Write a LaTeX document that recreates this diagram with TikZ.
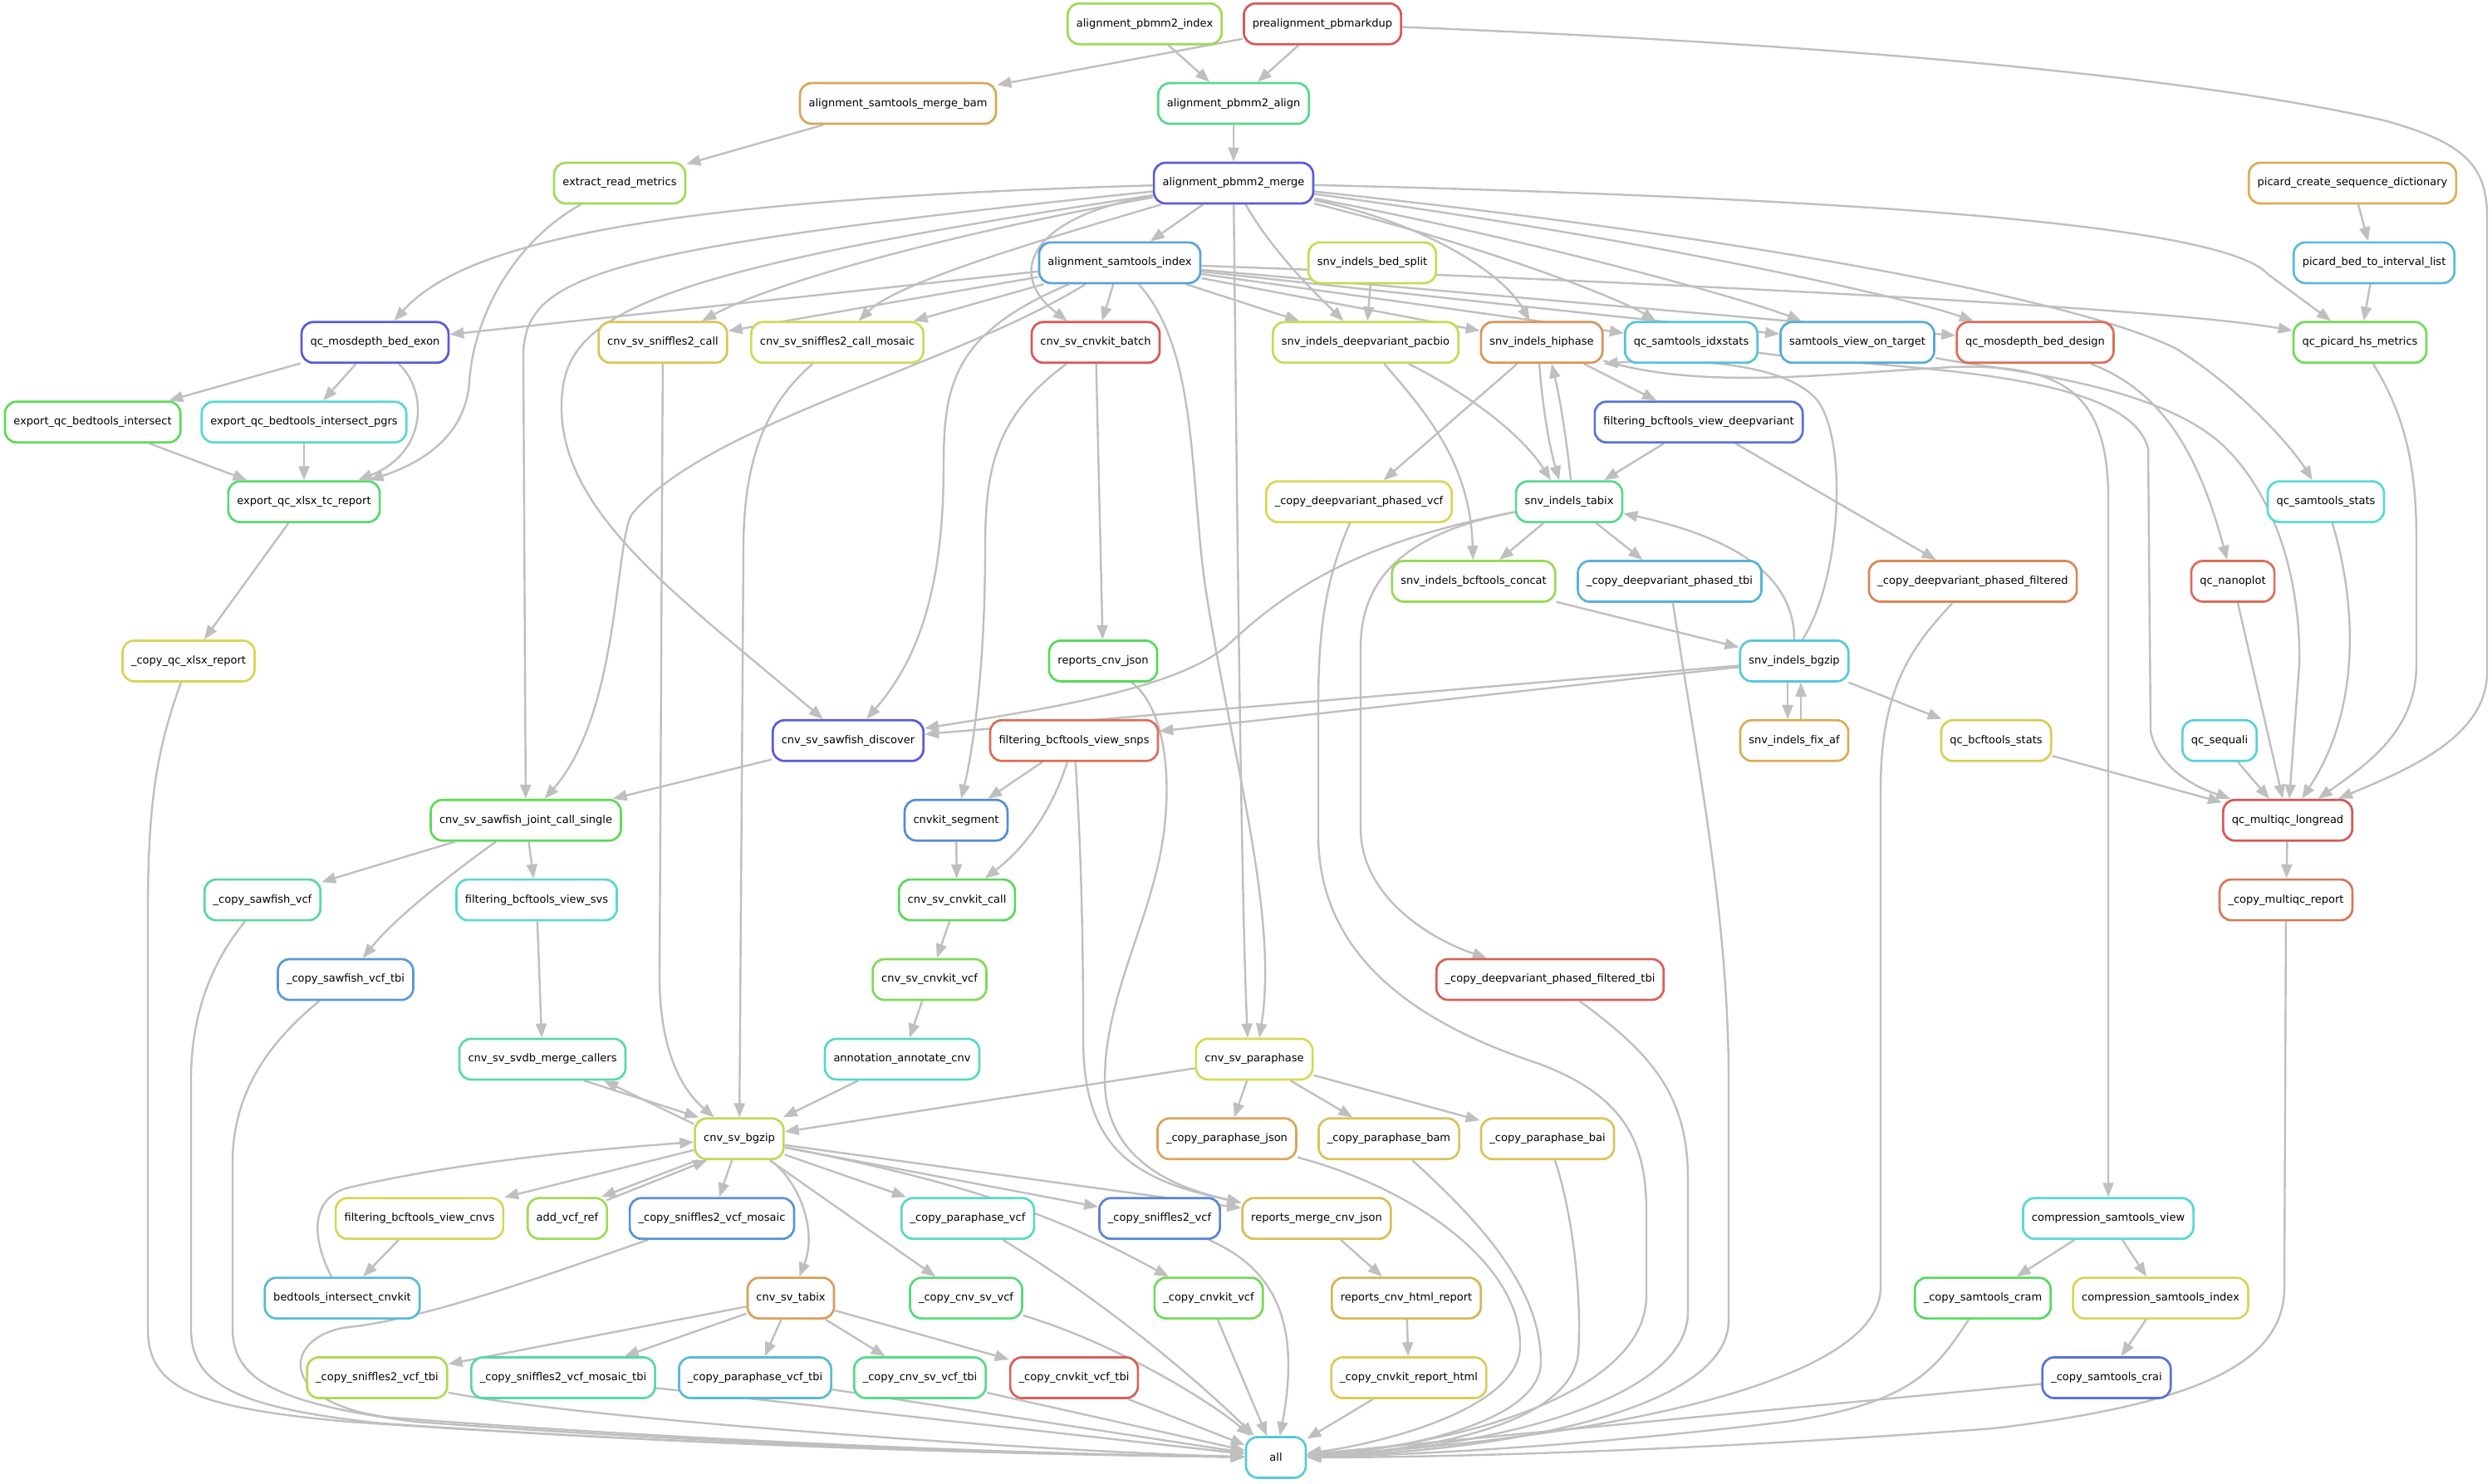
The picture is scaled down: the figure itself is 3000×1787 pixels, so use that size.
\documentclass[tikz,border=0pt]{standalone}
\usepackage{fontspec}
\setmainfont{DejaVu Sans}
\usetikzlibrary{arrows.meta}
\pgfdeclarelayer{bg}
\pgfsetlayers{bg,main}
\tikzset{
 rb/.style={rectangle, rounded corners=14pt, line width=2.7pt, fill=white, minimum height=49pt, minimum width=72pt, inner xsep=10.5pt, inner ysep=0pt, font=\fontsize{13}{15}\selectfont},
 arr/.style={draw=black!25, line width=2.4pt, -{Triangle[length=17pt,width=13pt]}},
}
\newcommand\mknode[5]{\definecolor{t#1}{hsb}{#2,0.6,0.85}\colorlet{c#1}[rgb]{t#1}\node[rb,draw=c#1] (#1) at (#3,#4) {#5};}
\begin{document}
\begin{tikzpicture}[x=1pt,y=-1pt]
\useasboundingbox (0,0) rectangle (3000,1787);
% row 0
\mknode{pbidx}{0.24}{1378}{28.7}{alignment\_pbmm2\_index}
\mknode{markdup}{0.0}{1592}{28.7}{prealignment\_pbmarkdup}
% row 1
\mknode{mergebam}{0.10}{1081}{124.6}{alignment\_samtools\_merge\_bam}
\mknode{align}{0.40}{1485}{124.6}{alignment\_pbmm2\_align}
% row 2
\mknode{readmet}{0.24}{746}{220.5}{extract\_read\_metrics}
\mknode{merge}{0.66}{1485}{220.5}{alignment\_pbmm2\_merge}
\mknode{seqdict}{0.11}{2832}{220.5}{picard\_create\_sequence\_dictionary}
% row 3
\mknode{samidx}{0.57}{1348}{316.4}{alignment\_samtools\_index}
\mknode{bedsplit}{0.19}{1652}{316.4}{snv\_indels\_bed\_split}
\mknode{bedint}{0.54}{2858}{316.4}{picard\_bed\_to\_interval\_list}
% row 4
\mknode{mosexon}{0.66}{451.5}{412.3}{qc\_mosdepth\_bed\_exon}
\mknode{snif}{0.14}{798}{412.3}{cnv\_sv\_sniffles2\_call}
\mknode{snifmos}{0.18}{1008}{412.3}{cnv\_sv\_sniffles2\_call\_mosaic}
\mknode{cnvkitbatch}{0.0}{1319}{412.3}{cnv\_sv\_cnvkit\_batch}
\mknode{dv}{0.19}{1644}{412.3}{snv\_indels\_deepvariant\_pacbio}
\mknode{hiphase}{0.08}{1856}{412.3}{snv\_indels\_hiphase}
\mknode{idxstats}{0.53}{2036}{412.3}{qc\_samtools\_idxstats}
\mknode{ontarget}{0.56}{2236}{412.3}{samtools\_view\_on\_target}
\mknode{mosdesign}{0.03}{2450}{412.3}{qc\_mosdepth\_bed\_design}
\mknode{hsmet}{0.30}{2841}{412.3}{qc\_picard\_hs\_metrics}
% row 5
\mknode{expint}{0.32}{111.6}{508.2}{export\_qc\_bedtools\_intersect}
\mknode{exppgrs}{0.49}{366}{508.2}{export\_qc\_bedtools\_intersect\_pgrs}
\mknode{filtdv}{0.63}{2045}{508.2}{filtering\_bcftools\_view\_deepvariant}
% row 6
\mknode{xlsx}{0.36}{366}{604.1}{export\_qc\_xlsx\_tc\_report}
\mknode{cpdvvcf}{0.16}{1636}{604.1}{\_copy\_deepvariant\_phased\_vcf}
\mknode{tabix}{0.40}{1889}{604.1}{snv\_indels\_tabix}
\mknode{samstats}{0.50}{2800}{604.1}{qc\_samtools\_stats}
% row 7
\mknode{concat}{0.25}{1774}{700}{snv\_indels\_bcftools\_concat}
\mknode{cpdvtbi}{0.55}{2010}{700}{\_copy\_deepvariant\_phased\_tbi}
\mknode{cpdvfilt}{0.06}{2375}{700}{\_copy\_deepvariant\_phased\_filtered}
\mknode{nanoplot}{0.03}{2688}{700}{qc\_nanoplot}
% row 8
\mknode{cpxlsx}{0.16}{227}{795.9}{\_copy\_qc\_xlsx\_report}
\mknode{cnvjson}{0.34}{1328}{795.9}{reports\_cnv\_json}
\mknode{bgzip}{0.52}{2160}{795.9}{snv\_indels\_bgzip}
% row 9
\mknode{sawdisc}{0.66}{1021}{891.8}{cnv\_sv\_sawfish\_discover}
\mknode{filtsnps}{0.03}{1293}{891.8}{filtering\_bcftools\_view\_snps}
\mknode{fixaf}{0.11}{2160}{891.8}{snv\_indels\_fix\_af}
\mknode{bcfstats}{0.15}{2403}{891.8}{qc\_bcftools\_stats}
\mknode{sequali}{0.51}{2672}{891.8}{qc\_sequali}
% row 10
\mknode{sawjoint}{0.32}{633}{987.7}{cnv\_sv\_sawfish\_joint\_call\_single}
\mknode{segment}{0.60}{1151}{987.7}{cnvkit\_segment}
\mknode{multiqc}{0.0}{2754}{987.7}{qc\_multiqc\_longread}
% row 11
\mknode{cpsawvcf}{0.42}{316}{1083.6}{\_copy\_sawfish\_vcf}
\mknode{filtsvs}{0.48}{646}{1083.6}{filtering\_bcftools\_view\_svs}
\mknode{cnvkitcall}{0.33}{1152}{1083.6}{cnv\_sv\_cnvkit\_call}
\mknode{cpmultiqc}{0.04}{2752}{1083.6}{\_copy\_multiqc\_report}
% row 12
\mknode{cpsawtbi}{0.58}{416}{1179.5}{\_copy\_sawfish\_vcf\_tbi}
\mknode{cnvkitvcf}{0.28}{1119}{1179.5}{cnv\_sv\_cnvkit\_vcf}
\mknode{cpdvfilttbi}{0.01}{1866}{1179.5}{\_copy\_deepvariant\_phased\_filtered\_tbi}
% row 13
\mknode{svdb}{0.44}{653}{1275.4}{cnv\_sv\_svdb\_merge\_callers}
\mknode{annot}{0.47}{1086}{1275.4}{annotation\_annotate\_cnv}
\mknode{paraphase}{0.17}{1510}{1275.4}{cnv\_sv\_paraphase}
% row 14
\mknode{svbgzip}{0.20}{890}{1371.3}{cnv\_sv\_bgzip}
\mknode{cpppjson}{0.10}{1477}{1371.3}{\_copy\_paraphase\_json}
\mknode{cpppbam}{0.14}{1672}{1371.3}{\_copy\_paraphase\_bam}
\mknode{cpppbai}{0.14}{1863}{1371.3}{\_copy\_paraphase\_bai}
% row 15
\mknode{filtcnvs}{0.16}{505}{1467.2}{filtering\_bcftools\_view\_cnvs}
\mknode{addref}{0.24}{683}{1467.2}{add\_vcf\_ref}
\mknode{cpsnifmos}{0.59}{857}{1467.2}{\_copy\_sniffles2\_vcf\_mosaic}
\mknode{cpppvcf}{0.47}{1165}{1467.2}{\_copy\_paraphase\_vcf}
\mknode{cpsnif}{0.61}{1396}{1467.2}{\_copy\_sniffles2\_vcf}
\mknode{mergejson}{0.13}{1585}{1467.2}{reports\_merge\_cnv\_json}
\mknode{cramview}{0.49}{2538}{1467.2}{compression\_samtools\_view}
% row 16
\mknode{bedcnvkit}{0.54}{412}{1563.1}{bedtools\_intersect\_cnvkit}
\mknode{svtabix}{0.09}{952}{1563.1}{cnv\_sv\_tabix}
\mknode{cpsvvcf}{0.38}{1163}{1563.1}{\_copy\_cnv\_sv\_vcf}
\mknode{cpkitvcf}{0.30}{1455}{1563.1}{\_copy\_cnvkit\_vcf}
\mknode{htmlrep}{0.12}{1693}{1563.1}{reports\_cnv\_html\_report}
\mknode{cpcram}{0.34}{2387}{1563.1}{\_copy\_samtools\_cram}
\mknode{cramidx}{0.16}{2601}{1563.1}{compression\_samtools\_index}
% row 17
\mknode{cpsniftbi}{0.22}{454}{1659}{\_copy\_sniffles2\_vcf\_tbi}
\mknode{cpsnifmostbi}{0.43}{678}{1659}{\_copy\_sniffles2\_vcf\_mosaic\_tbi}
\mknode{cpppvcftbi}{0.54}{909}{1659}{\_copy\_paraphase\_vcf\_tbi}
\mknode{cpsvtbi}{0.40}{1107.5}{1659}{\_copy\_cnv\_sv\_vcf\_tbi}
\mknode{cpkittbi}{0.01}{1293}{1659}{\_copy\_cnvkit\_vcf\_tbi}
\mknode{cphtml}{0.15}{1696}{1659}{\_copy\_cnvkit\_report\_html}
\mknode{cpcrai}{0.63}{2536}{1659}{\_copy\_samtools\_crai}
% row 18
\mknode{all}{0.52}{1536}{1754.9}{all}

\begin{pgfonlayer}{bg}
% top
\draw[arr] (pbidx) -- (align);
\draw[arr] (markdup) -- (align);
\draw[arr] (markdup) -- (mergebam);
\draw[arr] (markdup) .. controls (2250,55) and (2650,95) .. (2870,145) .. controls (2960,170) and (2994,195) .. (2994,260) -- (2994,810) .. controls (2994,890) and (2890,930) .. (multiqc);
\draw[arr] (mergebam) -- (readmet);
\draw[arr] (align) -- (merge);
% from merge
\draw[arr] (merge) -- (samidx);
\draw[arr] (merge) .. controls (800,240) and (560,290) .. (mosexon);
\draw[arr] (merge) .. controls (720,300) and (630,330) .. (630,430) -- (sawjoint);
\draw[arr] (merge) .. controls (760,330) and (676,380) .. (676,490) .. controls (676,620) and (820,720) .. (sawdisc);
\draw[arr] (merge) .. controls (1150,280) and (930,340) .. (snif);
\draw[arr] (merge) .. controls (1250,290) and (1080,340) .. (snifmos);
\draw[arr] (merge) .. controls (1240,260) and (1210,330) .. (cnvkitbatch);
\draw[arr] (merge) .. controls (1490,700) and (1495,1100) .. ([xshift=-8pt]paraphase.north);
\draw[arr] (merge) .. controls (1530,300) and (1580,350) .. (dv);
\draw[arr] (merge) .. controls (1720,270) and (1810,330) .. (hiphase);
\draw[arr] (merge) .. controls (1800,300) and (1950,360) .. (idxstats);
\draw[arr] (merge) .. controls (1850,290) and (2100,360) .. (ontarget);
\draw[arr] (merge) .. controls (2000,290) and (2300,360) .. (mosdesign);
\draw[arr] (merge) .. controls (2100,285) and (2500,360) .. (2620,420) .. controls (2700,470) and (2760,540) .. (samstats);
\draw[arr] (merge) .. controls (2300,240) and (2680,275) .. (2730,330) -- (hsmet);
% from samidx
\draw[arr] (samidx) -- (mosexon);
\draw[arr] (samidx) -- (snif);
\draw[arr] (samidx) -- (snifmos);
\draw[arr] (samidx) -- (cnvkitbatch);
\draw[arr] (samidx) .. controls (1150,400) and (1136,460) .. (1136,560) .. controls (1136,720) and (1100,800) .. (sawdisc);
\draw[arr] (samidx) .. controls (1150,440) and (850,510) .. (760,620) .. controls (740,660) and (745,860) .. (sawjoint);
\draw[arr] (samidx) .. controls (1440,420) and (1432,560) .. (1450,700) .. controls (1480,900) and (1540,1100) .. ([xshift=6pt]paraphase.north);
\draw[arr] (samidx) -- (dv);
\draw[arr] (samidx) -- (hiphase);
\draw[arr] (samidx) -- (idxstats);
\draw[arr] (samidx) -- (ontarget);
\draw[arr] (samidx) -- (mosdesign);
\draw[arr] (samidx) .. controls (2000,340) and (2600,370) .. (hsmet);
% qc left
\draw[arr] (readmet) .. controls (620,290) and (570,380) .. (565,460) .. controls (560,530) and (500,560) .. (xlsx);
\draw[arr] (mosexon) -- (expint);
\draw[arr] (mosexon) -- (exppgrs);
\draw[arr] (mosexon) .. controls (515,470) and (515,545) .. (xlsx);
\draw[arr] (expint) -- (xlsx);
\draw[arr] (exppgrs) -- (xlsx);
\draw[arr] (xlsx) -- (cpxlsx);
% right
\draw[arr] (seqdict) -- (bedint);
\draw[arr] (bedint) -- (hsmet);
\draw[arr] (bedsplit) -- (dv);
\draw[arr] (hiphase) -- (cpdvvcf);
\draw[arr] (hiphase) -- (filtdv);
\draw[arr] ([xshift=-3pt]hiphase.south) .. controls (1858,500) and (1866,540) .. ([xshift=-12pt]tabix.north);
\draw[arr] ([xshift=2pt]tabix.north) .. controls (1886,530) and (1878,480) .. ([xshift=12pt]hiphase.south);
\draw[arr] (dv) .. controls (1760,470) and (1830,520) .. ([xshift=-22pt]tabix.north);
\draw[arr] (filtdv) -- (tabix);
\draw[arr] (filtdv) -- (cpdvfilt);
\draw[arr] (dv) .. controls (1720,500) and (1770,560) .. (concat);
\draw[arr] (tabix) -- (concat);
\draw[arr] (tabix) -- (cpdvtbi);
\draw[arr] (tabix) .. controls (1700,640) and (1638,690) .. (1638,780) -- (1638,1000) .. controls (1640,1080) and (1720,1130) .. (cpdvfilttbi);
\draw[arr] (tabix) .. controls (1650,650) and (1560,700) .. (1480,775) .. controls (1420,830) and (1250,855) .. (sawdisc);
\draw[arr] (concat) -- (bgzip);
\draw[arr] (bgzip.north) .. controls (2160,700) and (2100,650) .. (tabix);
\draw[arr] ([xshift=10pt]bgzip.north) .. controls (2215,700) and (2225,540) .. (2190,485) .. controls (2150,430) and (2000,432) .. (hiphase.south east);
\draw[arr] ([xshift=-8pt]bgzip.south) -- ([xshift=-8pt]fixaf.north);
\draw[arr] ([xshift=8pt]fixaf.north) -- ([xshift=8pt]bgzip.south);
\draw[arr] (bgzip) -- (bcfstats);
\draw[arr] (bgzip) -- (sawdisc);
\draw[arr] (bgzip) -- (filtsnps);
% multiqc region
\draw[arr] (hiphase) .. controls (2050,470) and (2200,450) .. (2350,442) .. controls (2480,438) and (2538,470) .. (2538,600) -- (cramview);
\draw[arr] (idxstats) .. controls (2250,445) and (2560,440) .. (2586,540) -- (2589,880) .. controls (2600,940) and (2680,960) .. (multiqc);
\draw[arr] (ontarget) .. controls (2400,445) and (2600,460) .. (2680,540) .. controls (2740,600) and (2770,700) .. (2768,800) -- (multiqc);
\draw[arr] (mosdesign) .. controls (2600,470) and (2645,540) .. (nanoplot);
\draw[arr] (hsmet) .. controls (2895,500) and (2909,560) .. (2909,650) -- (2909,800) .. controls (2909,880) and (2850,920) .. (multiqc);
\draw[arr] (samstats) .. controls (2835,720) and (2845,850) .. (multiqc);
\draw[arr] (nanoplot) -- (multiqc);
\draw[arr] (sequali) -- (multiqc);
\draw[arr] (bcfstats) -- (multiqc);
\draw[arr] (multiqc) -- (cpmultiqc);
\draw[arr] (cramview) -- (cpcram);
\draw[arr] (cramview) -- (cramidx);
\draw[arr] (cramidx) -- (cpcrai);
% cnv
\draw[arr] (cnvkitbatch) .. controls (1200,500) and (1186,560) .. (1186,660) .. controls (1186,800) and (1172,900) .. (segment);
\draw[arr] (cnvkitbatch) -- (cnvjson);
\draw[arr] (cnvjson) .. controls (1400,850) and (1412,930) .. (1400,1010) .. controls (1385,1110) and (1330,1200) .. (1330,1300) .. controls (1330,1400) and (1420,1432) .. (mergejson);
\draw[arr] (filtsnps) -- (segment);
\draw[arr] (filtsnps) .. controls (1262,990) and (1222,1030) .. (cnvkitcall);
\draw[arr] (filtsnps) .. controls (1300,1000) and (1304,1100) .. (1304,1250) .. controls (1304,1380) and (1360,1420) .. (mergejson);
\draw[arr] (segment) -- (cnvkitcall);
\draw[arr] (cnvkitcall) -- (cnvkitvcf);
\draw[arr] (cnvkitvcf) -- (annot);
\draw[arr] (annot) -- (svbgzip);
\draw[arr] (sawdisc) -- (sawjoint);
\draw[arr] (sawjoint) -- (cpsawvcf);
\draw[arr] (sawjoint) -- (filtsvs);
\draw[arr] (sawjoint) .. controls (560,1040) and (480,1100) .. (cpsawtbi);
\draw[arr] (filtsvs) -- (svdb);
\draw[arr] ([xshift=50pt]svdb.south) -- ([xshift=6pt]svbgzip.north west);
\draw[arr] ([yshift=-8pt]svbgzip.north west) -- ([xshift=74pt]svdb.south);
\draw[arr] (snif) -- (794,1180) .. controls (795,1280) and (830,1320) .. (svbgzip);
\draw[arr] (snifmos) .. controls (930,480) and (895,540) .. (895,660) -- (svbgzip);
\draw[arr] (paraphase) -- (svbgzip);
\draw[arr] (paraphase) -- (cpppjson);
\draw[arr] (paraphase) -- (cpppbam);
\draw[arr] (paraphase) -- (cpppbai);
\draw[arr] (bedcnvkit) .. controls (370,1480) and (380,1440) .. (420,1430) .. controls (550,1400) and (700,1385) .. (svbgzip);
\draw[arr] (svbgzip) -- (filtcnvs);
\draw[arr] (filtcnvs) -- (bedcnvkit);
\draw[arr] ([xshift=4pt]svbgzip.south west) -- ([xshift=-8pt]addref.north east);
\draw[arr] ([xshift=-2pt,yshift=-4pt]addref.north east) -- ([xshift=16pt]svbgzip.south west);
\draw[arr] (svbgzip) -- (cpsnifmos);
\draw[arr] (svbgzip) .. controls (960,1420) and (985,1480) .. (svtabix);
\draw[arr] (svbgzip) -- (cpppvcf);
\draw[arr] (svbgzip) -- (cpsvvcf);
\draw[arr] (svbgzip) -- (cpsnif);
\draw[arr] (svbgzip) .. controls (1200,1430) and (1300,1480) .. (cpkitvcf);
\draw[arr] (svbgzip) -- (mergejson);
\draw[arr] (svtabix) -- (cpsniftbi);
\draw[arr] (svtabix) -- (cpsnifmostbi);
\draw[arr] (svtabix) -- (cpppvcftbi);
\draw[arr] (svtabix) -- (cpsvtbi);
\draw[arr] (svtabix) -- (cpkittbi);
\draw[arr] (mergejson) -- (htmlrep);
\draw[arr] (htmlrep) -- (cphtml);
% into all
\draw[arr] (cpxlsx) .. controls (190,900) and (178,960) .. (178,1100) -- (178,1600) .. controls (178,1670) and (230,1695) .. (420,1712) .. controls (900,1745) and (1300,1752) .. (all);
\draw[arr] (cpsawvcf) .. controls (262,1150) and (230,1210) .. (230,1300) -- (230,1600) .. controls (230,1665) and (280,1695) .. (460,1714) .. controls (900,1745) and (1300,1752) .. (all);
\draw[arr] (cpsawtbi) .. controls (330,1250) and (280,1310) .. (280,1400) -- (280,1600) .. controls (280,1660) and (330,1690) .. (500,1712) .. controls (900,1742) and (1300,1752) .. (all);
\draw[arr] (cpsnifmos) .. controls (700,1520) and (520,1588) .. (420,1598) .. controls (340,1608) and (330,1690) .. (470,1707) .. controls (900,1740) and (1300,1752) .. (all);
\draw[arr] (cpsniftbi) .. controls (700,1710) and (1300,1750) .. (all);
\draw[arr] (cpsnifmostbi) -- (all);
\draw[arr] (cpppvcftbi) -- (all);
\draw[arr] (cpsvtbi) -- (all);
\draw[arr] (cpkittbi) -- (all);
\draw[arr] (cpsvvcf) .. controls (1350,1620) and (1460,1690) .. (all);
\draw[arr] (cpppvcf) .. controls (1350,1580) and (1460,1680) .. (all);
\draw[arr] (cpkitvcf) -- (all);
\draw[arr] (cpsnif) .. controls (1540,1530) and (1565,1600) .. (all);
\draw[arr] (cphtml) -- (all);
\draw[arr] (cpppjson) .. controls (1700,1430) and (1830,1520) .. (1830,1620) .. controls (1830,1700) and (1650,1740) .. (all);
\draw[arr] (cpppbam) .. controls (1780,1470) and (1855,1550) .. (1855,1640) .. controls (1855,1710) and (1700,1745) .. (all);
\draw[arr] (cpppbai) .. controls (1890,1450) and (1905,1550) .. (1900,1630) .. controls (1890,1720) and (1700,1748) .. (all);
\draw[arr] (cpdvvcf) .. controls (1595,700) and (1587,760) .. (1587,850) -- (1587,1010) .. controls (1590,1150) and (1700,1230) .. (1850,1280) .. controls (1960,1320) and (1982,1380) .. (1982,1460) -- (1982,1560) .. controls (1982,1680) and (1750,1740) .. (all);
\draw[arr] (cpdvfilttbi) .. controls (1990,1270) and (2032,1320) .. (2032,1420) -- (2032,1580) .. controls (2032,1690) and (1780,1745) .. (all);
\draw[arr] (cpdvtbi) .. controls (2040,900) and (2081,1100) .. (2081,1300) -- (2081,1590) .. controls (2081,1700) and (1800,1748) .. (all);
\draw[arr] (cpdvfilt) .. controls (2300,780) and (2264,830) .. (2264,950) -- (2264,1550) .. controls (2264,1670) and (1900,1735) .. (all);
\draw[arr] (cpcram) .. controls (2330,1650) and (2300,1690) .. (2150,1712) .. controls (1900,1742) and (1700,1752) .. (all);
\draw[arr] (cpcrai) -- (all);
\draw[arr] (cpmultiqc) -- (2750,1550) .. controls (2750,1640) and (2650,1690) .. (2400,1720) .. controls (2000,1750) and (1700,1755) .. (all);
\end{pgfonlayer}
\end{tikzpicture}
\end{document}
